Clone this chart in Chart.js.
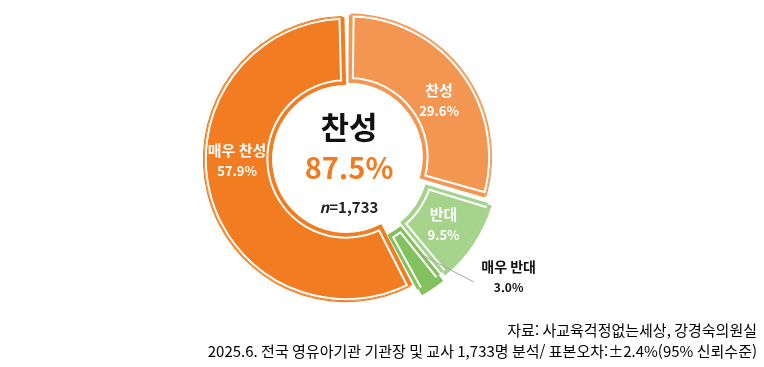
<!DOCTYPE html>
<html lang="ko">
<head>
<meta charset="utf-8">
<script src="https://cdn.jsdelivr.net/npm/chart.js@4.4.1/dist/chart.umd.min.js"></script>
<style>
  html, body { margin: 0; padding: 0; background: #fff; }
</style>
</head>
<body>
<canvas id="myChart" width="764" height="367"></canvas>
<script>
// data (clockwise from 12 o'clock)
const labels = ['찬성', '반대', '매우 반대', '매우 찬성'];
const values = [29.6, 9.5, 3.0, 57.9];
const valueLabels = ['29.6%', '9.5%', '3.0%', '57.9%'];
const centerTitle = '찬성';
const centerValue = '87.5%';
const sampleSize = '1,733';
const sourceLines = [
  '자료: 사교육걱정없는세상, 강경숙의원실',
  '2025.6. 전국 영유아기관 기관장 및 교사 1,733명 분석/ 표본오차:±2.4%(95% 신뢰수준)'
];

const colors = ['#F39651', '#A5D38B', '#83C05E', '#F17C21'];
const offsets = [14, 28, 28, 0];
const FONT = '"Noto Sans CJK KR", "Noto Sans", sans-serif';

// label placement: angle shift (deg) and radius relative to ring middle
const labelShift = [5, 0.5, -20, 13];
const labelExtra = [-2, 3, 86.5, 1];

const deg = Math.PI / 180;

// double outline: fill, white band, thin colored edge
const outlinePlugin = {
  id: 'outline',
  afterDatasetsDraw(chart) {
    const ctx = chart.ctx;
    chart.getDatasetMeta(0).data.forEach((arc, i) => {
      const saved = arc.options;
      arc.options = Object.assign({}, saved, {
        backgroundColor: 'rgba(0,0,0,0)',
        borderColor: colors[i],
        borderWidth: 2,
        borderAlign: 'inner'
      });
      arc.draw(ctx);
      arc.options = saved;
    });

    // slice labels
    chart.getDatasetMeta(0).data.forEach((arc, i) => {
      const p = arc.getProps(['x', 'y', 'startAngle', 'endAngle', 'innerRadius', 'outerRadius']);
      const mid = (p.startAngle + p.endAngle) / 2 + labelShift[i] * deg;
      const r = (p.innerRadius + p.outerRadius) / 2 + offsets[i] / 4 + labelExtra[i];
      const lx = p.x + Math.cos(mid) * r;
      const ly = p.y + Math.sin(mid) * r;
      const outside = i === 2;
      ctx.save();
      ctx.textAlign = 'center';
      ctx.textBaseline = 'middle';
      if (outside) {
        // leader line
        const a = (p.startAngle + p.endAngle) / 2 - 4 * deg;
        const r0 = (p.innerRadius + p.outerRadius) / 2 + 12;
        ctx.strokeStyle = '#A6A6A6';
        ctx.lineWidth = 1;
        ctx.beginPath();
        ctx.moveTo(p.x + Math.cos(a) * r0, p.y + Math.sin(a) * r0);
        ctx.lineTo(lx - 35, ly + 4);
        ctx.stroke();
      }
      ctx.fillStyle = outside ? '#111' : '#fff';
      ctx.font = `bold ${outside ? 14 : 15}px ${FONT}`;
      ctx.fillText(labels[i], lx, ly - 11);
      ctx.font = `bold ${outside ? 12 : 13}px ${FONT}`;
      ctx.fillText(valueLabels[i], lx, ly + 10);
      ctx.restore();
    });
  }
};

const textPlugin = {
  id: 'centerText',
  afterDraw(chart) {
    const ctx = chart.ctx;
    const arc0 = chart.getDatasetMeta(0).data[0];
    const cx = arc0.x + 3;
    const cy = arc0.y;
    ctx.save();
    ctx.textAlign = 'center';
    ctx.textBaseline = 'middle';
    ctx.fillStyle = '#111';
    ctx.font = `bold 31px ${FONT}`;
    ctx.fillText(centerTitle, cx, cy - 32);
    ctx.fillStyle = '#F07C21';
    ctx.font = `bold 29px ${FONT}`;
    ctx.fillText(centerValue, cx, cy + 9);

    ctx.textAlign = 'left';
    ctx.fillStyle = '#222';
    ctx.font = `italic bold 15px ${FONT}`;
    const wN = ctx.measureText('n').width;
    ctx.font = `bold 15px ${FONT}`;
    const wR = ctx.measureText('=' + sampleSize).width;
    const x0 = cx - (wN + wR) / 2;
    ctx.font = `italic bold 15px ${FONT}`;
    ctx.fillText('n', x0, cy + 48);
    ctx.font = `bold 15px ${FONT}`;
    ctx.fillText('=' + sampleSize, x0 + wN, cy + 48);

    // source notes
    ctx.textAlign = 'right';
    ctx.fillStyle = '#000';
    ctx.font = `15px ${FONT}`;
    ctx.fillText(sourceLines[0], 757, 330);
    ctx.fillText(sourceLines[1], 757, 351);
    ctx.restore();
  }
};

const chart = new Chart(document.getElementById('myChart'), {
  type: 'doughnut',
  data: {
    labels: labels,
    datasets: [{
      data: values,
      backgroundColor: colors,
      borderColor: '#fff',
      borderWidth: 4,
      borderAlign: 'inner',
      offset: offsets,
      spacing: 3
    }]
  },
  options: {
    responsive: false,
    animation: false,
    devicePixelRatio: 1,
    radius: 142,
    cutout: '52%',
    layout: { padding: { left: 0, right: 72, top: 0, bottom: 49 } },
    plugins: {
      legend: { display: false },
      tooltip: { enabled: false }
    }
  },
  plugins: [outlinePlugin, textPlugin]
});
</script>
</body>
</html>
